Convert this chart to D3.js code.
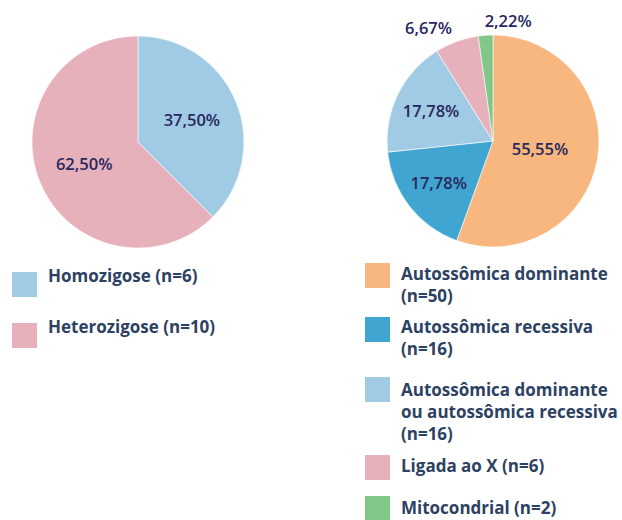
<!DOCTYPE html>
<html>
<head>
<meta charset="utf-8">
<script src="https://cdn.jsdelivr.net/npm/d3@7"></script>
<style>
  body { margin: 0; background: #fff; }
  text { font-family: "Open Sans", Lato, sans-serif; }
</style>
</head>
<body>
<div id="chart"></div>
<script>
// Data
var zygLabels = ["Homozigose (n=6)", "Heterozigose (n=10)"];
var zygValues = [6, 10];
var zygPct = ["37,50%", "62,50%"];
var zygColors = ["#a1cbe4", "#e6b1bb"];

var inhLabels = [
    ["Autossômica dominante", "(n=50)"],
    ["Autossômica recessiva", "(n=16)"],
    ["Autossômica dominante", "ou autossômica recessiva", "(n=16)"],
    ["Ligada ao X (n=6)"],
    ["Mitocondrial (n=2)"]
];
var inhValues = [50, 16, 16, 6, 2];
var inhPct = ["55,55%", "17,78%", "17,78%", "6,67%", "2,22%"];
var inhColors = ["#f7b77f", "#40a5d0", "#a1cbe4", "#e6b1bb", "#80c788"];

var width = 622, height = 520;
var r = 106;

var svg = d3.select("#chart")
    .append("svg")
    .attr("width", width)
    .attr("height", height);

var pie = d3.pie().sort(null).value(function (d) { return d; });
var arc = d3.arc().innerRadius(0).outerRadius(r);

function drawPie(cx, cy, values, colors, pct, labelPos) {
    var g = svg.append("g").attr("transform", "translate(" + cx + "," + cy + ")");
    var arcs = pie(values);
    g.selectAll("path")
        .data(arcs)
        .enter()
        .append("path")
        .attr("d", arc)
        .attr("fill", function (d, i) { return colors[i]; })
        .attr("stroke", "#fff")
        .attr("stroke-width", 0.6);

    g.selectAll(".pct")
        .data(arcs)
        .enter()
        .append("text")
        .classed("pct", true)
        .attr("transform", function (d) { return "translate(" + labelPos(d).pos + ")"; })
        .attr("text-anchor", function (d) { return labelPos(d).anchor; })
        .attr("dy", "0.36em")
        .attr("font-size", 16.5)
        .attr("font-weight", 600)
        .attr("fill", "#28275e")
        .text(function (d, i) { return pct[i]; });
}

// label placement: inside slices, small slices pushed outside
function ringAt(f) {
    return d3.arc().innerRadius(r * f).outerRadius(r * f);
}

drawPie(138, 142, zygValues, zygColors, zygPct, function (d) {
    return { pos: ringAt(0.55).centroid(d), anchor: "middle" };
});

drawPie(493, 141, inhValues, inhColors, inhPct, function (d) {
    var frac = (d.endAngle - d.startAngle) / (2 * Math.PI);
    if (frac < 0.1) {
        var p = ringAt(1.13).centroid(d);
        return { pos: p, anchor: p[0] < -20 ? "end" : "start" };
    }
    return { pos: ringAt(frac > 0.5 ? 0.45 : 0.65).centroid(d), anchor: "middle" };
});

// Legends (square top, first baseline)
function legend(x, items, colors, tops, baselines) {
    var g = svg.append("g");
    items.forEach(function (lines, i) {
        g.append("rect")
            .attr("x", x)
            .attr("y", tops[i])
            .attr("width", 25)
            .attr("height", 25)
            .attr("fill", colors[i]);
        var t = g.append("text")
            .attr("x", x + 36)
            .attr("y", baselines[i])
            .attr("font-size", 17)
            .attr("font-weight", 700)
            .attr("fill", "#2d4262");
        lines.forEach(function (line, j) {
            t.append("tspan")
                .attr("x", x + 36)
                .attr("dy", j === 0 ? 0 : 22)
                .text(line);
        });
    });
}

legend(12, zygLabels.map(function (l) { return [l]; }), zygColors, [272, 323], [282, 333]);
legend(365, inhLabels, inhColors, [263, 317, 377, 455, 496], [280, 333, 396, 472, 514]);
</script>
</body>
</html>
